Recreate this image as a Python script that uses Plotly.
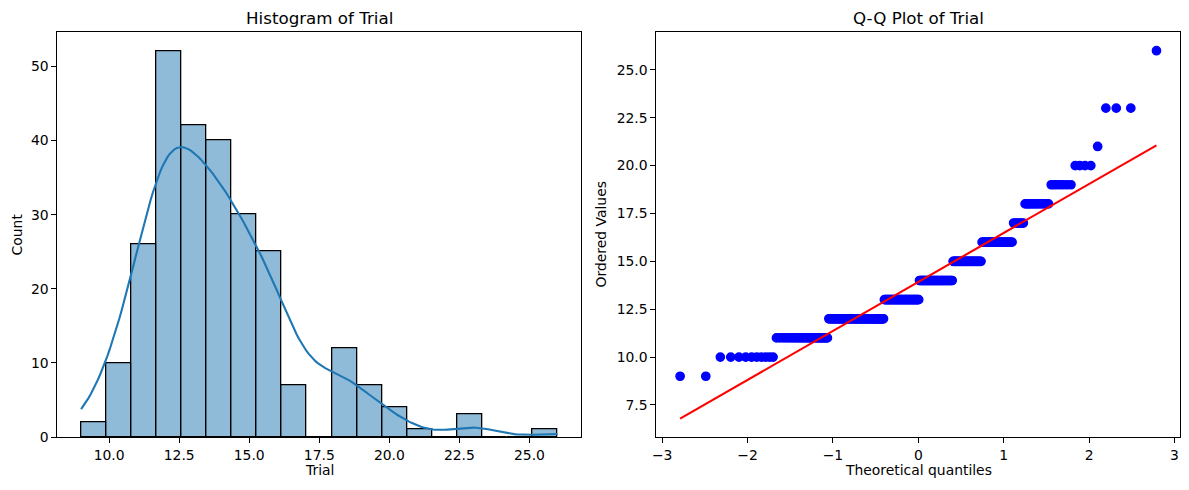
import math
import numpy as np
import plotly.graph_objects as go

# Trial scores: each value and how often it occurs
trial_values = [9, 10, 11, 12, 13, 14, 15, 16, 17, 18, 19, 20, 21, 23, 26]
trial_counts = [2, 10, 26, 52, 42, 40, 30, 25, 7, 12, 7, 4, 1, 3, 1]
n_bins = 19

data = np.repeat(np.array(trial_values, dtype=float), trial_counts)
n = len(data)

# histogram (same edges as numpy / seaborn 'auto' -> 19 bins)
counts, edges = np.histogram(data, bins=n_bins, range=(data.min(), data.max()))
centers = (edges[:-1] + edges[1:]) / 2
binw = edges[1] - edges[0]

# gaussian kde, scott bandwidth, scaled to counts
bw = n ** (-1 / 5) * data.std(ddof=1)
grid = np.linspace(data.min(), data.max(), 200)
dens = np.exp(-0.5 * ((grid[:, None] - data[None, :]) / bw) ** 2).sum(axis=1)
dens = dens / (n * bw * math.sqrt(2 * math.pi)) * n * binw


def norm_ppf(p):
    lo, hi = -10.0, 10.0
    for _ in range(80):
        mid = (lo + hi) / 2
        if 0.5 * (1 + math.erf(mid / math.sqrt(2))) < p:
            lo = mid
        else:
            hi = mid
    return (lo + hi) / 2


# order statistic medians (Filliben), like scipy.stats.probplot
v = np.empty(n)
v[-1] = 0.5 ** (1.0 / n)
v[0] = 1 - v[-1]
i = np.arange(2, n)
v[1:-1] = (i - 0.3175) / (n + 0.365)
osm = np.array([norm_ppf(p) for p in v])
osr = np.sort(data)
slope, intercept = np.polyfit(osm, osr, 1)
fit = slope * osm + intercept

# page body has an 8px margin, so the figure is made smaller and shifted
OFF = 8
W, H = 1189 - 2 * OFF, 490 - 2 * OFF


def fx(p):
    return (p - OFF) / W


def fy(p):
    return 1 - (p - OFF) / H


def pad(lo, hi, m=0.05):
    d = (hi - lo) * m
    return [lo - d, hi + d]


fig = go.Figure()

fig.add_trace(go.Bar(
    x=centers, y=counts, width=binw,
    marker=dict(color='rgba(31,119,180,0.5)', line=dict(color='black', width=1.3)),
    xaxis='x', yaxis='y'
))
fig.add_trace(go.Scatter(
    x=grid, y=dens, mode='lines',
    line=dict(color='#1f77b4', width=2.1),
    xaxis='x', yaxis='y'
))

fig.add_trace(go.Scatter(
    x=osm, y=osr, mode='markers',
    marker=dict(color='#0000ff', size=8.3, line=dict(color='#0000ff', width=1.4)),
    xaxis='x2', yaxis='y2'
))
fig.add_trace(go.Scatter(
    x=osm, y=fit, mode='lines',
    line=dict(color='#ff0000', width=2.1),
    xaxis='x2', yaxis='y2'
))

axis_style = dict(
    showline=True, mirror=True, linecolor='black', linewidth=1.1,
    ticks='outside', ticklen=4.9, tickwidth=1.1, tickcolor='black',
    showgrid=False, zeroline=False, automargin=False,
    tickfont=dict(size=13.9, color='black'),
)

q_lo = min(osr.min(), fit.min())
q_hi = max(osr.max(), fit.max())

fig.update_layout(
    width=W, height=H,
    margin=dict(l=0, r=0, t=0, b=0),
    paper_bgcolor='white', plot_bgcolor='white',
    showlegend=False, bargap=0,
    font=dict(family='DejaVu Sans', color='black'),
    xaxis=dict(domain=[fx(57.3), fx(581.3)], range=pad(edges[0], edges[-1]),
               tick0=0, dtick=2.5, tickformat='.1f', anchor='y', **axis_style),
    yaxis=dict(domain=[fy(437), fy(32.3)], range=[0, counts.max() * 1.05],
               tick0=0, dtick=10, anchor='x', **axis_style),
    xaxis2=dict(domain=[fx(656.3), fx(1180.3)], range=pad(osm.min(), osm.max()),
                tick0=0, dtick=1, anchor='y2', **axis_style),
    yaxis2=dict(domain=[fy(437), fy(32.3)], range=pad(q_lo, q_hi),
                tick0=0, dtick=2.5, tickformat='.1f', anchor='x2', **axis_style),
)

labels = [
    ('Histogram of Trial', fx(319.3), fy(18), 16.7, 0),
    ('Q-Q Plot of Trial', fx(918.3), fy(18), 16.7, 0),
    ('Trial', fx(319.3), fy(470), 13.9, 0),
    ('Theoretical quantiles', fx(918.3), fy(470), 13.9, 0),
    ('Count', fx(16.7), fy(234.7), 13.9, -90),
    ('Ordered Values', fx(600.7), fy(234.7), 13.9, -90),
]
for text, x, y, size, angle in labels:
    fig.add_annotation(
        text=text, x=x, y=y, xref='paper', yref='paper',
        xanchor='center', yanchor='middle', showarrow=False,
        textangle=angle, font=dict(size=size, color='black')
    )

fig.write_html("out.html")
